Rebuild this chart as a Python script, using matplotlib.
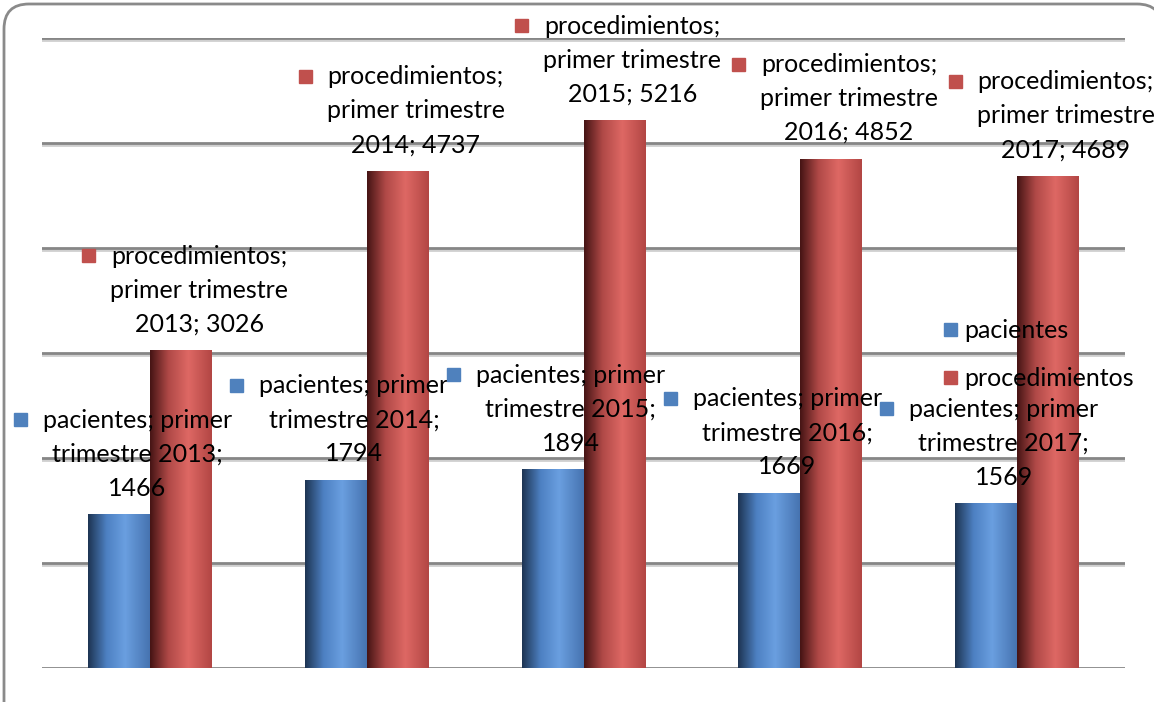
import numpy as np
import matplotlib
matplotlib.use("Agg")
import matplotlib.pyplot as plt
from matplotlib.colors import LinearSegmentedColormap
from matplotlib.path import Path
from matplotlib.patches import PathPatch
from matplotlib.transforms import IdentityTransform, offset_copy
import matplotlib.patheffects as pe

YEARS = ["2013", "2014", "2015", "2016", "2017"]
PACIENTES = [1466, 1794, 1894, 1669, 1569]
PROCEDIMIENTOS = [3026, 4737, 5216, 4852, 4689]
SERIES = ["pacientes", "procedimientos"]
KEY_COLORS = ["#4f81bd", "#c0504d"]

# cylinder-like shading across each bar, dark on the left
BLUE_SHADE = LinearSegmentedColormap.from_list(
    "blue_shade", [(0, "#1d3452"), (0.3, "#4d80c2"), (0.6, "#6a9fe0"), (1, "#4673b0")])
RED_SHADE = LinearSegmentedColormap.from_list(
    "red_shade", [(0, "#451414"), (0.3, "#b04947"), (0.62, "#de6864"), (1, "#b24644")])

FONT = "Lato"
FS = 18

W, H = 1154, 702
fig = plt.figure(figsize=(W/100, H/100), dpi=100)
ax = fig.add_axes([42/W, 34/H, 1083/W, 630/H])

x = np.arange(len(YEARS))
w = 0.286
bars_p = ax.bar(x - w/2, PACIENTES, w, color=KEY_COLORS[0], zorder=2)
bars_r = ax.bar(x + w/2, PROCEDIMIENTOS, w, color=KEY_COLORS[1], zorder=2)

grad = np.linspace(0, 1, 256).reshape(1, -1)
for bars, cmap in ((bars_p, BLUE_SHADE), (bars_r, RED_SHADE)):
    for b in bars:
        im = ax.imshow(grad, cmap=cmap, aspect="auto", zorder=3,
                       extent=(b.get_x(), b.get_x() + b.get_width(), 0, b.get_height()))
        im.set_clip_path(b)

ax.set_xlim(-0.5, len(YEARS) - 0.5)
ax.set_ylim(0, 6000)
for t in np.arange(0, 6001, 1000):
    ax.axhline(t, color="#868686", lw=2, zorder=1,
               path_effects=[pe.SimpleLineShadow(offset=(0, -1.2), shadow_color="#b0b0b0", alpha=0.6),
                             pe.Normal()])
ax.set_xticks([])
ax.set_yticks([])
for s in ax.spines.values():
    s.set_visible(False)

fig.canvas.draw()
renderer = fig.canvas.get_renderer()

# data labels: three lines above each bar, with a legend key before the first line
def data_label(bar, name, year, value, color):
    cx = bar.get_x() + bar.get_width()/2
    top = bar.get_height()
    if name == "pacientes":
        lines = [f"{name}; primer", f"trimestre {year};", f"{value}"]
    else:
        lines = [f"{name};", "primer trimestre", f"{year}; {value}"]
    first = None
    for i, line in enumerate(lines):
        tr = offset_copy(ax.transData, fig=fig, x=18*0.72, y=(94 - 34*i)*0.72, units="points")
        t = ax.text(cx, top, line, transform=tr, ha="center", va="center",
                    fontsize=FS, family=FONT, color="black", zorder=5)
        if i == 0:
            first = t
    ext = first.get_window_extent(renderer)
    ymid = (ext.y0 + ext.y1) / 2
    fig.patches.append(plt.Rectangle((ext.x0 - 29, ymid - 6), 13, 13, color=color,
                                     transform=IdentityTransform(), figure=fig))

for bars, name, vals, col in ((bars_p, SERIES[0], PACIENTES, KEY_COLORS[0]),
                              (bars_r, SERIES[1], PROCEDIMIENTOS, KEY_COLORS[1])):
    for b, yr, v in zip(bars, YEARS, vals):
        data_label(b, name, yr, v, col)

# legend on the right
for i, (name, col) in enumerate(zip(SERIES, KEY_COLORS)):
    ypix = H - (330 + 48*i)
    fig.text(964/W, ypix/H, name, ha="left", va="center",
             fontsize=FS, family=FONT, color="black", zorder=6)
    fig.patches.append(plt.Rectangle((944, ypix - 6), 13, 13, color=col,
                                     transform=IdentityTransform(), figure=fig))

# frame: left and top sides with rounded corners; right and bottom run off the canvas
r = 25
x0, x1, y1, ybot = 4, 1162, H - 4, -20
verts = [(x0, ybot), (x0, y1 - r), (x0, y1), (x0 + r, y1),
         (x1 - r, y1), (x1, y1), (x1, y1 - r), (x1, ybot)]
codes = [Path.MOVETO, Path.LINETO, Path.CURVE3, Path.CURVE3,
         Path.LINETO, Path.CURVE3, Path.CURVE3, Path.LINETO]
fig.patches.append(PathPatch(Path(verts, codes), fill=False, ec="#8a8a8a", lw=2,
                             transform=IdentityTransform(), figure=fig))

fig.savefig("out.png", dpi=100)
